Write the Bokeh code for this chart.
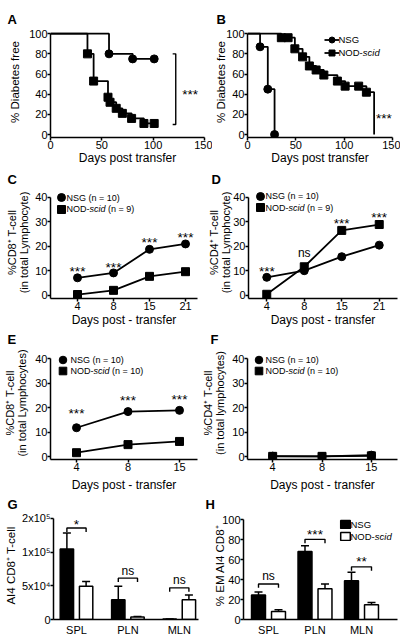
from bokeh.plotting import figure
from bokeh.models import (Range1d, FixedTicker, Label, Legend, LegendItem,
                          ColumnDataSource, Whisker, TeeHead, Title)
from bokeh.layouts import row, column
from bokeh.embed import file_html
from bokeh.resources import INLINE
from bokeh.core.properties import value

FONT = "Liberation Sans"

# ------------------------------------------------------------------ data
# Panel A (survival, % diabetes free)
a_nsg_days = [0, 57, 80, 101]
a_nsg_surv = [100, 80, 75, 75]
a_nod_days = [0, 36, 42, 56, 58, 64, 70, 79, 91, 101]
a_nod_surv = [100, 80, 53, 37, 32, 26, 21, 16, 11, 11]
a_bracket = [122, 10, 80]          # x, bottom, top
a_sig = ["***"]
a_sig_xy = [136, 43]

# Panel B
b_nsg_days = [0, 13, 21, 28]
b_nsg_surv = [100, 87, 45, 0]
b_nod_days = [0, 35, 42, 49, 57, 64, 71, 79, 93, 101, 115, 123, 131]
b_nod_surv = [100, 96, 96, 85, 77, 68, 64, 59, 53, 48, 48, 42, 0]
b_sig = ["***"]
b_sig_xy = [141, 19]

# Panel C / D (days 4, 8, 15, 21)
cd_days = ["4", "8", "15", "21"]
c_nsg = [7.1, 9.1, 18.7, 20.9]
c_nod = [0.3, 2.0, 7.7, 9.6]
c_sig = ["***", "***", "***", "***"]
c_sig_y = [10.7, 12.7, 22.7, 24.7]
d_nsg = [7.3, 10.0, 15.7, 20.4]
d_nod = [0.4, 11.6, 26.4, 28.8]
d_sig = ["***", "ns", "***", "***"]
d_sig_y = [10.7, 17.0, 30.3, 32.7]

# Panel E / F (days 4, 8, 15)
ef_days = ["4", "8", "15"]
e_nsg = [11.8, 18.4, 18.9]
e_nod = [1.6, 4.9, 6.2]
e_sig = ["***", "***", "***"]
e_sig_y = [18.8, 24.3, 24.5]
f_nsg = [0.2, 0.1, 0.6]
f_nod = [0.1, 0.1, 0.3]

# Panel G / H (tissues)
tissues = ["SPL", "PLN", "MLN"]
g_nsg = [104400, 29200, 600]
g_nsg_err = [24000, 20100, 0]
g_nod = [49300, 3700, 29200]
g_nod_err = [7200, 800, 7200]
g_br_y = [135600, 61300, 46900]
g_sig = ["*", "ns", "ns"]
g_sig_y = [145700, 71000, 56500]
h_nsg = [24.7, 68.2, 39.0]
h_nsg_err = [2.9, 5.8, 8.4]
h_nod = [8.1, 30.8, 14.9]
h_nod_err = [1.6, 4.9, 2.3]
h_br_y = [35.7, 80.5, 52.9]
h_sig = ["ns", "***", "**"]
h_sig_y = [43.2, 88.7, 61.0]

g_ticks = [0, 50000, 100000, 150000]
g_tick_labels = ["0", "5x10\u2074", "1x10\u2075", "2x10\u2075"]

# ------------------------------------------------------------------ helpers
TICK = "11px"
CW = {'N': .722, 'S': .667, 'G': .778, ' ': .278, '(': .333, ')': .333,
      'n': .556, '=': .584, '1': .556, '0': .556, '9': .556, 'O': .778,
      'D': .722, '-': .333, 's': .5, 'c': .5, 'i': .222, 'd': .556}


def lin(v0, p0, v1, p1):
    s = (p1 - p0) / (v1 - v0)
    return lambda px: v0 + (px - p0) / s


def panel(W, H, fl, ft, fr, fb, xmap, ymap, letter, letter_x):
    p = figure(width=W, height=H,
               x_range=Range1d(xmap(fl), xmap(fr)),
               y_range=Range1d(ymap(fb), ymap(ft)),
               output_backend="svg", toolbar_location=None, tools="",
               min_border_left=fl, min_border_right=W - fr,
               min_border_top=ft, min_border_bottom=H - fb)
    p.title = Title(text=letter, align="left", offset=letter_x - fl,
                    vertical_align="bottom", standoff=0, text_font=FONT,
                    text_font_size="13px", text_font_style="bold",
                    text_color="black")
    p.outline_line_color = None
    p.xgrid.visible = False
    p.ygrid.visible = False
    p.background_fill_color = None
    p.border_fill_color = None
    p._fl, p._fb = fl, fb
    return p


def style_axes(p, xticks, yticks, xlabel, ylabel, xend, ytop,
               xover=None, yover=None, ylab_size="11.5px", ystand=0,
               xstand=0, xtick_out=3, xlab_stand=0):
    xa, ya = p.xaxis[0], p.yaxis[0]
    xa.ticker = FixedTicker(ticks=xticks)
    ya.ticker = FixedTicker(ticks=yticks)
    if xover:
        xa.major_label_overrides = xover
    if yover:
        ya.major_label_overrides = yover
    xa.bounds = (p.x_range.start, xend)
    ya.bounds = (p.y_range.start, ytop)
    if xlabel:
        xa.axis_label = xlabel
    ya.axis_label = ylabel
    for ax in (xa, ya):
        ax.axis_line_width = 1.5
        ax.axis_line_color = "black"
        ax.major_tick_line_width = 1.5
        ax.major_tick_line_color = "black"
        ax.major_tick_in = 0
        ax.major_tick_out = 3
        ax.minor_tick_in = 0
        ax.minor_tick_out = 0
        ax.major_label_text_font = FONT
        ax.major_label_text_font_size = TICK
        ax.major_label_text_color = "black"
        ax.major_label_standoff = 0
        ax.axis_label_text_font = FONT
        ax.axis_label_text_font_style = "normal"
        ax.axis_label_text_color = "black"
        ax.axis_label_text_line_height = 1.0
    xa.axis_label_text_font_size = "12px"
    ya.axis_label_text_font_size = ylab_size
    ya.axis_label_standoff = int(ystand)
    xa.axis_label_standoff = int(xlab_stand)
    xa.major_label_standoff = int(xstand)
    xa.major_tick_out = int(xtick_out)


def rich_text(p, x, y, parts, size=9):
    """parts: list of (text, style); x, y canvas px (left, middle)."""
    for txt, style in parts:
        lead = len(txt) - len(txt.lstrip(" "))
        x += lead * CW[" "] * size
        txt = txt.lstrip(" ")
        if txt:
            p.add_layout(Label(x=x - p._fl, y=p._fb - y, x_units="screen",
                               y_units="screen", text=txt, text_font=FONT,
                               text_font_size=f"{size}px", text_font_style=style,
                               text_baseline="middle", text_align="left",
                               text_color="black"))
        x += sum(CW.get(ch, .556) for ch in txt) * size


def legend_key(p, renderers, cx, cy, gw, gh):
    gw, gh = int(round(gw)), int(round(gh))
    leg = Legend(items=[LegendItem(label=value(""), renderers=renderers)],
                 location=(cx - gw / 2 - p._fl, p._fb - (cy + gh / 2)),
                 glyph_width=gw, glyph_height=gh, label_height=1,
                 label_width=0, label_standoff=0, label_text_font_size="1px",
                 padding=0, margin=0, spacing=0, border_line_color=None,
                 background_fill_alpha=0)
    p.add_layout(leg)


def sig_text(p, xs, ys, texts):
    dy = [3 if "*" in t else -1 for t in texts]
    fs = ["13.5px" if "*" in t else "12px" for t in texts]
    src = ColumnDataSource(dict(x=xs, y=ys, t=texts, dy=dy, fs=fs))
    p.text(x="x", y="y", text="t", y_offset="dy", source=src,
           text_font=value(FONT), text_font_size="fs", text_align="center",
           text_baseline="middle", text_color="black")


def nod_parts(n):
    return [("NOD-", "normal"), ("scid", "italic"),
            ("" if n is None else f" (n = {n})", "normal")]


LW = 1.8
MS = 8

# ------------------------------------------------------------------ Row 1
H1 = 167
ymapAB = lin(0, 136, 100, 33.3)
xmapA = lin(0, 50, 150, 204)
pA = panel(212, H1, 50, 26, 204, 139, xmapA, ymapAB, "A", 7)
style_axes(pA, [0, 50, 100, 150], [0, 20, 40, 60, 80, 100],
           "Days post transfer", "% Diabetes free", 150, 100, ystand=5,
           xlab_stand=-1)
pA.step(a_nsg_days, a_nsg_surv, mode="after", line_color="black", line_width=LW)
pA.step(a_nod_days, a_nod_surv, mode="after", line_color="black", line_width=LW)
pA.scatter(a_nsg_days[1:], a_nsg_surv[1:], marker="circle", size=MS, color="black")
pA.scatter(a_nod_days[1:], a_nod_surv[1:], marker="square", size=MS, color="black")
bx, bb, bt = a_bracket
pA.line([bx - 3, bx, bx, bx - 3], [bt, bt, bb, bb], line_color="black", line_width=1.4)
sig_text(pA, [a_sig_xy[0]], [a_sig_xy[1]], a_sig)

xmapB = lin(0, 31, 150, 180)
pB = panel(188, H1, 31, 26, 180, 139, xmapB, ymapAB, "B", 0)
style_axes(pB, [0, 50, 100, 150], [0, 20, 40, 60, 80, 100],
           "Days post transfer", "% Diabetes free", 150, 100, ystand=-4,
           xlab_stand=-1)
l1 = pB.step(b_nsg_days, b_nsg_surv, mode="after", line_color="black", line_width=LW)
l2 = pB.step(b_nod_days, b_nod_surv, mode="after", line_color="black", line_width=LW)
m1 = pB.scatter(b_nsg_days[1:], b_nsg_surv[1:], marker="circle", size=MS, color="black")
m2 = pB.scatter(b_nod_days[1:-1], b_nod_surv[1:-1], marker="square", size=MS, color="black")
sig_text(pB, [b_sig_xy[0]], [b_sig_xy[1]], b_sig)
legend_key(pB, [l1, m1], 115, 41, 15, 17)
legend_key(pB, [l2, m2], 115, 54, 15, 17)
rich_text(pB, 122, 41, [("NSG", "normal")], size=9.5)
rich_text(pB, 122, 54, nod_parts(None), size=9.5)


# ------------------------------------------------------------------ Rows 2, 3
def line_panel(p, xs, nsg, nod, sig, sig_y, cx, cy1, cy2, tx, n1, n2, gh):
    p.line(xs, nsg, line_color="black", line_width=LW)
    p.line(xs, nod, line_color="black", line_width=LW)
    s1 = p.scatter(xs, nsg, marker="circle", size=MS, color="black")
    s2 = p.scatter(xs, nod, marker="square", size=MS, color="black")
    if sig:
        sig_text(p, xs, sig_y, sig)
    legend_key(p, [s1], cx, cy1, gh, gh)
    legend_key(p, [s2], cx, cy2, gh, gh)
    rich_text(p, tx, cy1, [(f"NSG (n = {n1})", "normal")])
    rich_text(p, tx, cy2, nod_parts(n2))


xs4 = list(range(len(cd_days)))
xs3 = list(range(len(ef_days)))
over4 = {i: d for i, d in enumerate(cd_days)}
over3 = {i: d for i, d in enumerate(ef_days)}

H2 = 162
ymapCD = lin(0, 129.7, 40, 29.7)
xmapC = lin(0, 77, 3, 185)
pC = panel(205, H2, 50, 19, 197, 133, xmapC, ymapCD, "C", 7)
style_axes(pC, xs4, [0, 10, 20, 30, 40], "Days post - transfer",
           "%CD8\u207a T-cell\n(in total Lymphocyte)", xmapC(197), 40,
           xover=over4, ylab_size="11px", ystand=2)
line_panel(pC, xs4, c_nsg, c_nod, c_sig, c_sig_y, 61, 32, 43.5, 66, 10, 9, 20)

xmapD = lin(0, 56, 3, 173)
pD = panel(195, H2, 37, 19, 192, 133, xmapD, ymapCD, "D", 0)
style_axes(pD, xs4, [0, 10, 20, 30, 40], "Days post - transfer",
           "%CD4\u207a T-cell\n(in total Lymphocyte)", xmapD(192), 40,
           xover=over4, ylab_size="11px", ystand=-2)
line_panel(pD, xs4, d_nsg, d_nod, d_sig, d_sig_y, 49, 30.5, 42, 54, 10, 9, 20)

H3 = 165
ymapEF = lin(0, 129, 40, 27.7)
xmapE = lin(0, 76, 2, 179)
pE = panel(199, H3, 50, 15, 197, 132, xmapE, ymapEF, "E", 7)
style_axes(pE, xs3, [0, 10, 20, 30, 40], "Days post - transfer",
           "%CD8\u207a T-cell\n(in total Lymphocytes)", xmapE(197), 40,
           xover=over3, ylab_size="11px", ystand=4, xlab_stand=4)
line_panel(pE, xs3, e_nsg, e_nod, e_sig, e_sig_y, 62, 32.5, 43.5, 70, 10, 10, 19)

xmapF = lin(0, 69, 2, 171)
pF = panel(201, H3, 43, 15, 198, 132, xmapF, ymapEF, "F", 6)
style_axes(pF, xs3, [0, 10, 20, 30, 40], "Days post - transfer",
           "%CD4\u207a T-cell\n(in total lymphocytes)", xmapF(198), 40,
           xover=over3, ylab_size="11px", ystand=3, xlab_stand=4)
line_panel(pF, xs3, f_nsg, f_nod, None, None, 54.5, 32, 43.5, 61, 10, 10, 19)

# ------------------------------------------------------------------ Row 4
H4 = 145


def bar_panel(p, nsg, nsg_err, nod, nod_err, br_y, sig, sig_y, off, bw, tick_h):
    xs = list(range(len(tissues)))
    xn = [x - off for x in xs]
    xo = [x + off for x in xs]
    rn = p.vbar(x=xn, top=nsg, width=bw, fill_color="black", line_color="black", line_width=1.5)
    ro = p.vbar(x=xo, top=nod, width=bw, fill_color="white", line_color="black", line_width=1.5)
    for xx, m, e in ((xn, nsg, nsg_err), (xo, nod, nod_err)):
        src = ColumnDataSource(dict(x=xx, lo=m, hi=[a + b for a, b in zip(m, e)]))
        p.add_layout(Whisker(base="x", lower="lo", upper="hi", source=src,
                             line_width=1.5, line_color="black", lower_head=None,
                             upper_head=TeeHead(size=8, line_width=1.5, line_color="black")))
    p.multi_line([[a, a, b, b] for a, b in zip(xn, xo)],
                 [[y - tick_h, y, y, y - tick_h] for y in br_y],
                 line_color="black", line_width=1.4)
    sig_text(p, xs, sig_y, sig)
    return rn, ro


over_t = {i: t for i, t in enumerate(tissues)}
xmapG = lin(0, 76, 2, 178.8)
ymapG = lin(0, 125, 150000, 21)
pG = panel(204, H4, 53, 14, 198, 125, xmapG, ymapG, "G", 7)
style_axes(pG, list(range(len(tissues))), g_ticks, None, "AI4 CD8\u207a T-cell",
           xmapG(198), 150000, xover=over_t,
           yover={t: l for t, l in zip(g_ticks, g_tick_labels)}, xtick_out=0,
           xstand=4, ystand=2)
bar_panel(pG, g_nsg, g_nsg_err, g_nod, g_nod_err, g_br_y, g_sig, g_sig_y,
          0.187, 0.26, 5800)

xmapH = lin(0, 64, 2, 157)
ymapH = lin(0, 125, 100, 22.7)
pH = panel(196, H4, 39, 14, 193, 125, xmapH, ymapH, "H", 1)
style_axes(pH, list(range(len(tissues))), [0, 20, 40, 60, 80, 100], None,
           "% EM AI4 CD8\u207a", xmapH(193), 100, xover=over_t, xtick_out=0,
           xstand=4, ystand=-7)
rn, ro = bar_panel(pH, h_nsg, h_nsg_err, h_nod, h_nod_err, h_br_y, h_sig, h_sig_y,
                   0.215, 0.30, 3.9)
legend_key(pH, [rn], 141, 30, 12, 10)
legend_key(pH, [ro], 141, 42, 12, 10)
rich_text(pH, 146, 30, [("NSG", "normal")], size=9.5)
rich_text(pH, 146, 42, nod_parts(None), size=9.5)

layout = column(row(pA, pB), row(pC, pD), row(pE, pF), row(pG, pH))
open("out.html", "w").write(file_html(layout, INLINE))
